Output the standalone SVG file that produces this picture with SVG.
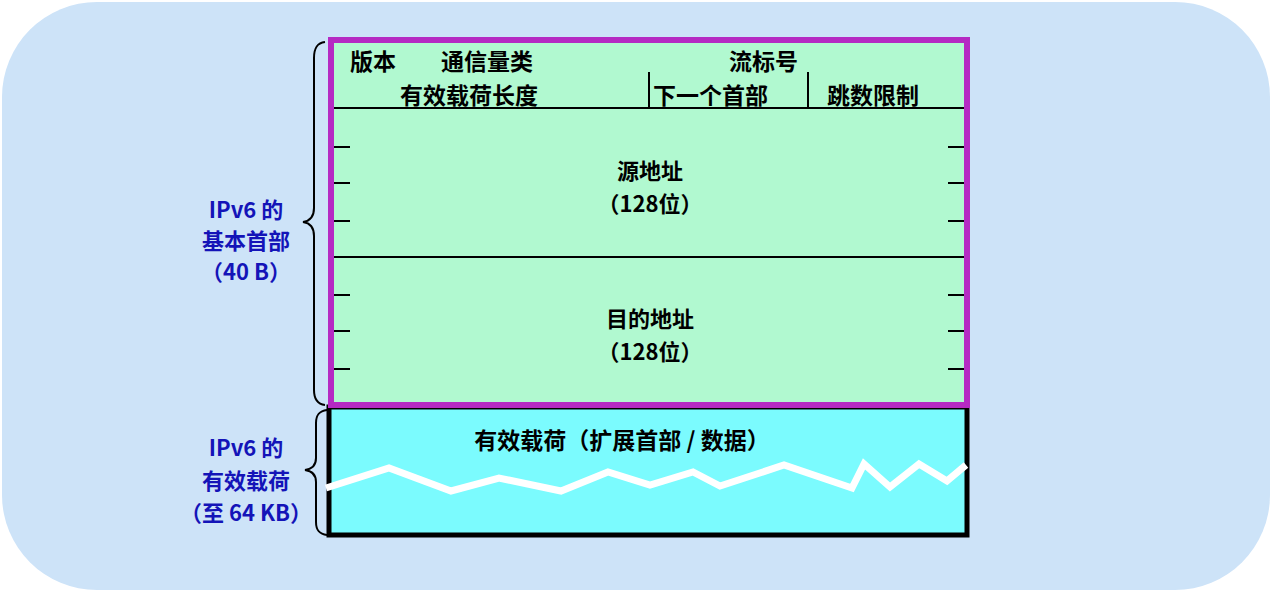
<svg xmlns="http://www.w3.org/2000/svg" width="1272" height="592" viewBox="0 0 1272 592">
<style>
.t{font-family:"Noto Sans CJK SC","Noto Sans",sans-serif;font-weight:bold;font-size:23px;fill:#000}
.s{font-size:22px}
.b{font-family:"Noto Sans CJK SC","Noto Sans",sans-serif;font-weight:bold;font-size:22px;fill:#1414b8;text-anchor:middle}
.m{text-anchor:middle}
.ln{stroke:#000;stroke-width:2;fill:none}
.br{stroke:#000;stroke-width:2;fill:none}
</style>
<rect x="2" y="2" width="1268" height="588" rx="95" ry="95" fill="#cde3f8"/>
<g id="payload">
<rect x="329" y="407" width="638" height="128" fill="#7bfbfe" stroke="#000" stroke-width="5"/>
<text class="t m" x="622" y="449">有效载荷（扩展首部 / 数据）</text>
<polyline points="326,488 389,468 451,491 499,478 561,491 608,472 650,485 693,472 720,486 784,465 852,488 864,464 890,487 919,464 947,481 966,465" fill="none" stroke="#fff" stroke-width="7" stroke-linejoin="miter"/>
</g>
<g id="header">
<rect x="331" y="40" width="636" height="365" fill="#b1f9d0" stroke="#b52ac3" stroke-width="6"/>
<line class="ln" x1="334" y1="108" x2="964" y2="108"/>
<line class="ln" x1="649" y1="72" x2="649" y2="108"/>
<line class="ln" x1="808" y1="72" x2="808" y2="108"/>
<line class="ln" x1="334" y1="257" x2="964" y2="257"/>
<g class="ln">
<line x1="334" y1="147" x2="350" y2="147"/><line x1="334" y1="183" x2="350" y2="183"/><line x1="334" y1="221" x2="350" y2="221"/>
<line x1="334" y1="295" x2="350" y2="295"/><line x1="334" y1="331" x2="350" y2="331"/><line x1="334" y1="369" x2="350" y2="369"/>
<line x1="948" y1="147" x2="964" y2="147"/><line x1="948" y1="183" x2="964" y2="183"/><line x1="948" y1="221" x2="964" y2="221"/>
<line x1="948" y1="295" x2="964" y2="295"/><line x1="948" y1="331" x2="964" y2="331"/><line x1="948" y1="369" x2="964" y2="369"/>
</g>
<text class="t" x="350" y="70">版本</text>
<text class="t" x="441" y="70">通信量类</text>
<text class="t" x="729" y="70">流标号</text>
<text class="t m" x="469" y="104">有效载荷长度</text>
<text class="t" x="653" y="104">下一个首部</text>
<text class="t m" x="873" y="104">跳数限制</text>
<text class="t s m" x="650" y="179">源地址</text>
<text class="t s m" x="650" y="212">（128位）</text>
<text class="t s m" x="650" y="327">目的地址</text>
<text class="t s m" x="650" y="360">（128位）</text>
</g>
<g id="braces">
<path class="br" d="M325,42 C317,43 314,48 314,58 L314,208 C314,216 310,221 303,222 C310,223 314,228 314,236 L314,390 C314,399 317,404 325,405"/>
<path class="br" d="M327,410 C319,411 316,415 316,423 L316,458 C316,465 312,469 305,470 C312,471 316,475 316,482 L316,522 C316,530 319,534 327,535"/>
</g>
<g id="labels">
<text class="b" x="246" y="218">IPv6 的</text>
<text class="b" x="246" y="249">基本首部</text>
<text class="b" x="246" y="280">（40 B）</text>
<text class="b" x="246" y="456">IPv6 的</text>
<text class="b" x="246" y="489">有效载荷</text>
<text class="b" x="246" y="521">（至 64 KB）</text>
</g>
</svg>
